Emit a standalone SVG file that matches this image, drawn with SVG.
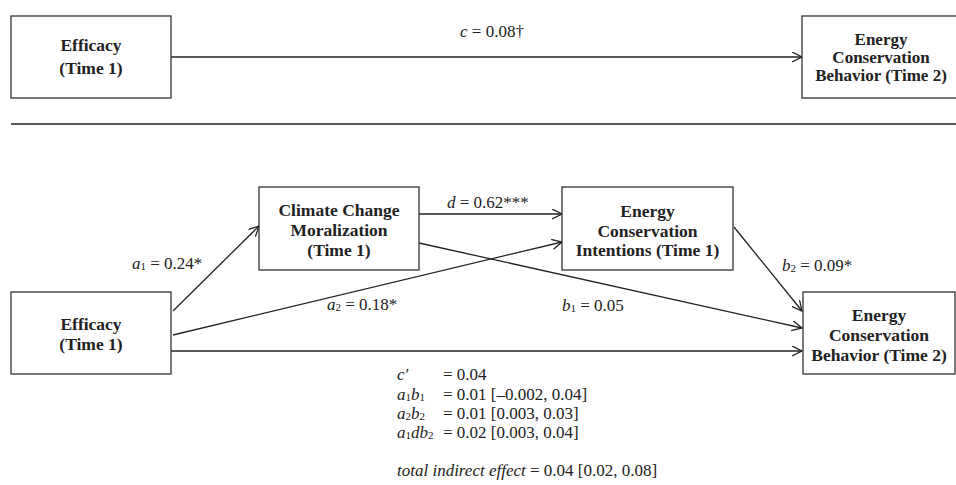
<svg xmlns="http://www.w3.org/2000/svg" width="956" height="485" viewBox="0 0 956 485">
<style>
.box{fill:#fff;stroke:#333;stroke-width:1.3}
.lbl{font-family:"Liberation Serif","Times New Roman",serif;font-size:17.5px;font-weight:bold;fill:#222;text-anchor:middle}
.tight{font-size:17px}
.t{font-family:"Liberation Serif","Times New Roman",serif;font-size:17px;fill:#222}
.i{font-style:italic}
.s{font-size:11px}
.con line{stroke:#222;stroke-width:1.3;fill:none}
.arr{marker-end:url(#ah)}
</style>
<defs>
<marker id="ah" markerUnits="userSpaceOnUse" markerWidth="12" markerHeight="12" refX="10" refY="5" orient="auto">
<path d="M0,0 L10,5 L0,10" fill="none" stroke="#222" stroke-width="1.3"/>
</marker>
</defs>
<rect width="956" height="485" fill="#fff"/>

<g id="connectors" class="con">
<line class="arr" x1="171" y1="57" x2="802" y2="57"/>
<line x1="11" y1="124" x2="956" y2="124"/>
<line class="arr" x1="173" y1="311" x2="259" y2="226"/>
<line class="arr" x1="173" y1="335" x2="562" y2="242"/>
<line class="arr" x1="171" y1="351" x2="802" y2="351"/>
<line class="arr" x1="419" y1="214" x2="562" y2="214"/>
<line class="arr" x1="419" y1="243" x2="802" y2="328"/>
<line class="arr" x1="734" y1="227" x2="802" y2="311"/>
</g>

<g id="top-efficacy">
<rect class="box" x="11" y="16" width="160" height="82"/>
<text class="lbl" x="91" y="51">Efficacy</text>
<text class="lbl" x="91" y="74">(Time 1)</text>
</g>

<g id="top-behavior">
<rect class="box" x="802" y="16" width="160" height="82"/>
<text class="lbl tight" x="881" y="45">Energy</text>
<text class="lbl tight" x="881" y="63">Conservation</text>
<text class="lbl tight" x="881" y="81">Behavior (Time 2)</text>
</g>

<g id="efficacy">
<rect class="box" x="11" y="292" width="160" height="82"/>
<text class="lbl" x="91" y="330">Efficacy</text>
<text class="lbl" x="91" y="350">(Time 1)</text>
</g>

<g id="moralization">
<rect class="box" x="259" y="187" width="160" height="83"/>
<text class="lbl" x="339" y="216">Climate Change</text>
<text class="lbl" x="339" y="236">Moralization</text>
<text class="lbl" x="339" y="256">(Time 1)</text>
</g>

<g id="intentions">
<rect class="box" x="562" y="187" width="171" height="83"/>
<text class="lbl" x="647.5" y="217">Energy</text>
<text class="lbl" x="647.5" y="237">Conservation</text>
<text class="lbl" x="647.5" y="256">Intentions (Time 1)</text>
</g>

<g id="behavior">
<rect class="box" x="803" y="292" width="152" height="82"/>
<text class="lbl" x="879" y="321">Energy</text>
<text class="lbl" x="879" y="341">Conservation</text>
<text class="lbl" x="879" y="361">Behavior (Time 2)</text>
</g>

<g id="labels">
<text class="t" x="460" y="37"><tspan class="i">c</tspan> = 0.08†</text>
<text class="t" x="132" y="269"><tspan class="i">a</tspan><tspan class="s" dy="1">1</tspan><tspan dy="-1"> = 0.24*</tspan></text>
<text class="t" x="327" y="310"><tspan class="i">a</tspan><tspan class="s" dy="1">2</tspan><tspan dy="-1"> = 0.18*</tspan></text>
<text class="t" x="447" y="208"><tspan class="i">d</tspan> = 0.62***</text>
<text class="t" x="562" y="311"><tspan class="i">b</tspan><tspan class="s" dy="1">1</tspan><tspan dy="-1"> = 0.05</tspan></text>
<text class="t" x="782" y="271"><tspan class="i">b</tspan><tspan class="s" dy="1">2</tspan><tspan dy="-1"> = 0.09*</tspan></text>
</g>

<g id="stats">
<text class="t i" x="397" y="380">c′</text>
<text class="t" x="443" y="380">= 0.04</text>
<text class="t" x="397" y="400"><tspan class="i">a</tspan><tspan class="s" dy="1">1</tspan><tspan class="i" dy="-1">b</tspan><tspan class="s" dy="1">1</tspan></text>
<text class="t" x="443" y="400">= 0.01 [–0.002, 0.04]</text>
<text class="t" x="397" y="419"><tspan class="i">a</tspan><tspan class="s" dy="1">2</tspan><tspan class="i" dy="-1">b</tspan><tspan class="s" dy="1">2</tspan></text>
<text class="t" x="443" y="419">= 0.01 [0.003, 0.03]</text>
<text class="t" x="397" y="438"><tspan class="i">a</tspan><tspan class="s" dy="1">1</tspan><tspan class="i" dy="-1">db</tspan><tspan class="s" dy="1">2</tspan></text>
<text class="t" x="443" y="438">= 0.02 [0.003, 0.04]</text>
<text class="t" x="397" y="476"><tspan class="i">total indirect effect</tspan> = 0.04 [0.02, 0.08]</text>
</g>
</svg>
